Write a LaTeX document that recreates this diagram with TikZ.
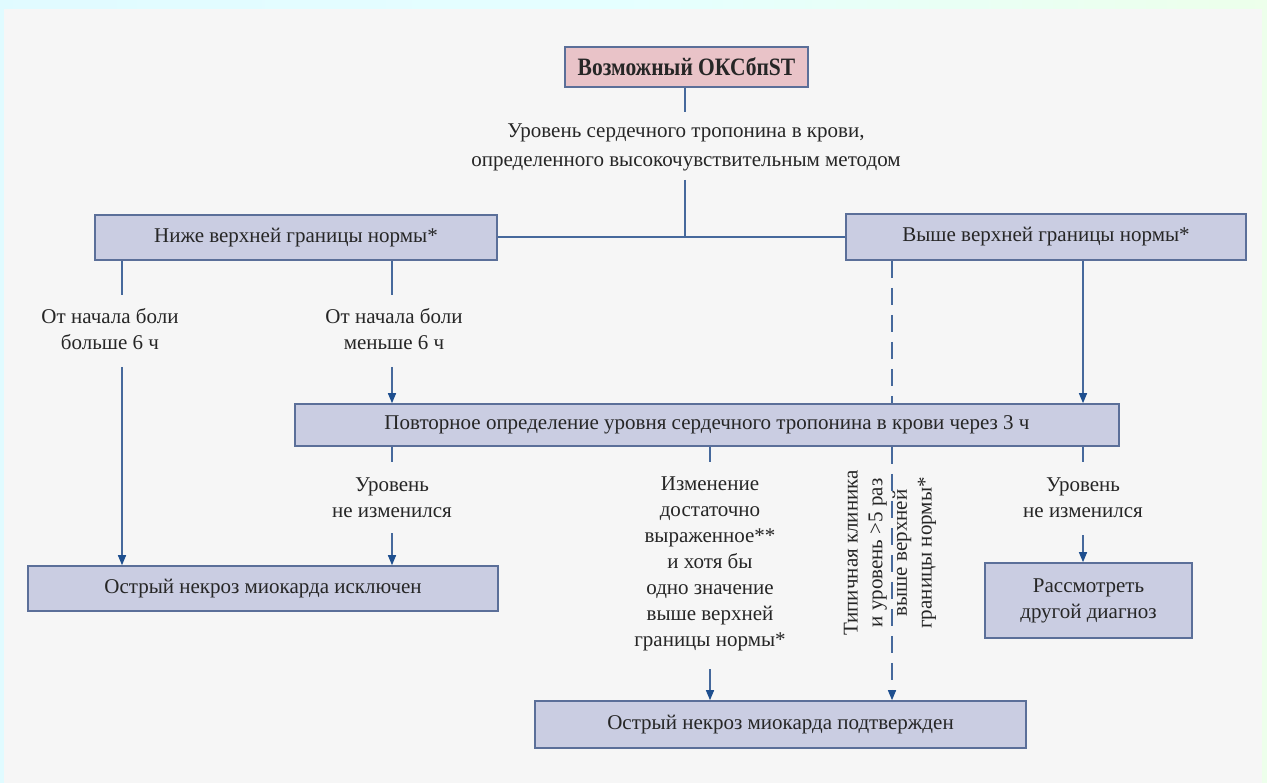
\documentclass[tikz,border=0pt]{standalone}
\usepackage{fontspec}
\setmainfont{Liberation Serif}
\usetikzlibrary{arrows.meta}
\definecolor{boxfill}{HTML}{CACDE2}
\definecolor{boxdraw}{HTML}{5B6F99}
\definecolor{linecol}{HTML}{46699C}
\definecolor{tipcol}{HTML}{1E4F8F}
\definecolor{pinkfill}{HTML}{E9C3C8}
\definecolor{panel}{HTML}{F6F6F6}
\definecolor{txt}{HTML}{262626}
\begin{document}
\begin{tikzpicture}[x=1pt,y=-1pt,
  every node/.style={text=txt, font=\fontsize{21}{26}\selectfont},
  box/.style={draw=boxdraw, fill=boxfill, line width=1.6pt, inner sep=0pt, align=center},
  lbl/.style={align=center, inner sep=0pt},
  ln/.style={draw=linecol, line width=1.4pt},
  arr/.style={ln, -{Triangle[width=8pt,length=10pt,color=tipcol]}},
  dsh/.style={ln, dash pattern=on 17pt off 10pt}]
\useasboundingbox (0,0) rectangle (1267,783);
% background
\shade[left color=blue!14!cyan!12, right color=yellow!10!green!8, middle color=cyan!10] (0,0) rectangle (1267,783);
\fill[panel] (4,9) rectangle (1262,783);

% boxes
\node[box, fill=pinkfill, minimum width=243pt, minimum height=40pt,
      font=\bfseries\fontsize{25}{30}\selectfont] (top) at (686.5,67) {\scalebox{0.86}[1]{Возможный ОКСбпST}};
\node[box, minimum width=402pt, minimum height=45pt] (low) at (296,237.5) {Ниже верхней границы нормы*};
\node[box, minimum width=400pt, minimum height=46pt] (high) at (1046,237) {Выше верхней границы нормы*};
\node[box, minimum width=824pt, minimum height=42pt] (rep) at (707,425) {Повторное определение уровня сердечного тропонина в крови через 3 ч};
\node[box, minimum width=470pt, minimum height=45pt] (excl) at (263,588.5) {Острый некроз миокарда исключен};
\node[box, minimum width=207pt, minimum height=75pt] (other) at (1088.5,600.5) {Рассмотреть\\другой диагноз};
\node[box, minimum width=491pt, minimum height=47pt] (conf) at (780.5,724.5) {Острый некроз миокарда подтвержден};

% labels
\node[lbl, font=\fontsize{21}{29}\selectfont] (trop) at (686,147) {Уровень сердечного тропонина в крови,\\определенного высокочувствительным методом};
\node[lbl] (gt6) at (110,329) {От начала боли\\больше 6 ч};
\node[lbl] (lt6) at (394,329) {От начала боли\\меньше 6 ч};
\node[lbl] (same1) at (392,498) {Уровень\\не изменился};
\node[lbl] (same2) at (1083,498) {Уровень\\не изменился};
\node[lbl] (chg) at (710,564) {Изменение\\достаточно\\выраженное**\\и хотя бы\\одно значение\\выше верхней\\границы нормы*};
\node[lbl, rotate=90, font=\fontsize{21}{24.7}\selectfont] (typ) at (890,553) {Типичная клиника\\и уровень >5 раз\\выше верхней\\границы нормы*};

% connector points
\coordinate (a1) at (685,112);
\coordinate (a2) at (685,180);
\coordinate (j) at (685,237);
\coordinate (b1) at (122,295);
\coordinate (b2) at (122,367);
\coordinate (c1) at (392,295);
\coordinate (c2) at (392,367);
\coordinate (d1) at (392,462);
\coordinate (d2) at (392,533);
\coordinate (e1) at (710,462);
\coordinate (e2) at (710,669);
\coordinate (f1) at (1083,462);
\coordinate (f2) at (1083,535);

% connectors
\draw[ln] (top.south -| a1) -- (a1);
\draw[ln] (a2) -- (j);
\draw[ln] (low.east |- j) -- (high.west |- j);
\draw[ln] (low.south -| b1) -- (b1);
\draw[arr] (b2) -- (excl.north -| b2);
\draw[ln] (low.south -| c1) -- (c1);
\draw[arr] (c2) -- (rep.north -| c2);
\draw[arr] (high.south -| f1) -- (rep.north -| f1);
\draw[dsh] (high.south -| 892,0) -- (rep.north -| 892,0);
\draw[dsh, -{Triangle[width=8pt,length=10pt,color=tipcol]}] (rep.south -| 892,0) -- (conf.north -| 892,0);
\draw[ln] (rep.south -| d1) -- (d1);
\draw[arr] (d2) -- (excl.north -| d2);
\draw[ln] (rep.south -| e1) -- (e1);
\draw[arr] (e2) -- (conf.north -| e2);
\draw[ln] (rep.south -| f1) -- (f1);
\draw[arr] (f2) -- (other.north -| f2);
\end{tikzpicture}
\end{document}
